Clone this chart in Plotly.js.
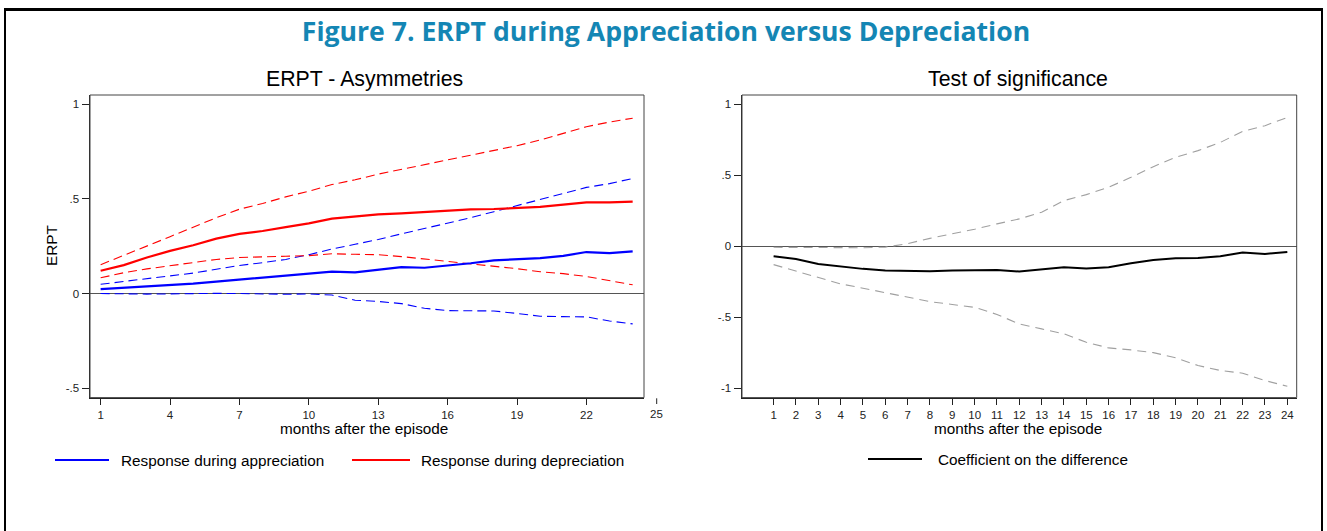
<!DOCTYPE html>
<html>
<head>
<meta charset="utf-8">
<script src="https://cdn.plot.ly/plotly-3.0.1.min.js"></script>
<style>
  html, body { margin: 0; padding: 0; background: #ffffff; overflow: hidden; }
  #frame { position: absolute; left: 4px; top: 8px; width: 1315px; height: 600px;
           border-top: 3px solid #000; border-left: 2px solid #000; border-right: 2px solid #000;
           pointer-events: none; }
  #chart { position: absolute; left: 0; top: 0; width: 1327px; height: 531px; }
</style>
</head>
<body>
<div id="chart"></div>
<div id="frame"></div>
<script>
// ---------------- data ----------------
const months = [1,2,3,4,5,6,7,8,9,10,11,12,13,14,15,16,17,18,19,20,21,22,23,24];

// Left panel: ERPT - Asymmetries
const apprResp  = [0.023,0.030,0.036,0.042,0.052,0.063,0.074,0.082,0.092,0.103,0.116,0.112,0.125,0.139,0.136,0.146,0.160,0.175,0.182,0.187,0.199,0.219,0.213,0.222];
const apprUpper = [0.049,0.063,0.077,0.090,0.108,0.128,0.148,0.163,0.180,0.205,0.235,0.260,0.285,0.315,0.343,0.370,0.400,0.432,0.465,0.495,0.530,0.560,0.580,0.607];
const apprLower = [0.000,-0.002,-0.003,-0.002,0.000,0.001,0.000,-0.003,-0.004,-0.002,-0.008,-0.035,-0.042,-0.053,-0.078,-0.090,-0.090,-0.092,-0.105,-0.120,-0.122,-0.123,-0.145,-0.160];
const deprResp  = [0.120,0.150,0.190,0.225,0.255,0.290,0.315,0.330,0.350,0.370,0.395,0.405,0.418,0.423,0.430,0.439,0.444,0.446,0.451,0.457,0.469,0.481,0.481,0.485];
const deprUpper = [0.152,0.200,0.250,0.300,0.350,0.400,0.445,0.475,0.510,0.540,0.575,0.600,0.630,0.655,0.680,0.705,0.730,0.755,0.780,0.810,0.845,0.880,0.905,0.925];
const deprLower = [0.083,0.110,0.130,0.148,0.165,0.180,0.190,0.195,0.197,0.200,0.210,0.207,0.205,0.195,0.183,0.171,0.158,0.145,0.131,0.115,0.105,0.090,0.070,0.046];

// Right panel: Test of significance
const diffCoef  = [-0.070,-0.089,-0.124,-0.143,-0.159,-0.171,-0.174,-0.176,-0.171,-0.167,-0.167,-0.178,-0.164,-0.148,-0.157,-0.148,-0.120,-0.096,-0.085,-0.082,-0.070,-0.044,-0.054,-0.040];
const diffUpper = [-0.007,-0.008,-0.010,-0.012,-0.010,-0.006,0.019,0.056,0.087,0.120,0.158,0.193,0.240,0.322,0.364,0.416,0.486,0.561,0.627,0.674,0.732,0.810,0.850,0.908];
const diffLower = [-0.129,-0.175,-0.220,-0.265,-0.295,-0.325,-0.360,-0.390,-0.410,-0.430,-0.480,-0.547,-0.582,-0.617,-0.676,-0.716,-0.730,-0.749,-0.786,-0.840,-0.875,-0.894,-0.946,-0.986];

// tick labels
const leftXTicks  = [1,4,7,10,13,16,19,22];
const leftYTicks  = [-0.5,0,0.5,1];
const leftYLabels = ['-.5','0','.5','1'];
const rightYTicks  = [-1,-0.5,0,0.5,1];
const rightYLabels = ['-1','-.5','0','.5','1'];

// text
const mainTitle   = 'Figure 7. ERPT during Appreciation versus Depreciation';
const leftTitle   = 'ERPT - Asymmetries';
const rightTitle  = 'Test of significance';
const xTitle      = 'months after the episode';
const yTitle      = 'ERPT';
const nameAppr    = 'Response during appreciation';
const nameDepr    = 'Response during depreciation';
const nameDiff    = 'Coefficient on the difference';

// ---------------- layout helpers ----------------
const W = 1327, H = 531;
const px = v => v / W;
const py = v => 1 - v / H;
const FONT = 'Liberation Sans, Arial, sans-serif';
const BLUE = '#0000ff', RED = '#ff0000', GRAY = '#a0a0a0', BLACK = '#000000';

function line(x, y, xa, ya, color, width, dash, name) {
  return { type: 'scatter', mode: 'lines', x: x, y: y, xaxis: xa, yaxis: ya, name: name,
           line: { color: color, width: width, dash: dash }, showlegend: false, hoverinfo: 'x+y' };
}

const traces = [
  line(months, apprUpper, 'x', 'y', BLUE, 1.1, '9px,5px', 'appreciation upper'),
  line(months, apprLower, 'x', 'y', BLUE, 1.1, '9px,5px', 'appreciation lower'),
  line(months, deprUpper, 'x', 'y', RED, 1.1, '9px,5px', 'depreciation upper'),
  line(months, deprLower, 'x', 'y', RED, 1.1, '9px,5px', 'depreciation lower'),
  line(months, apprResp, 'x', 'y', BLUE, 2.2, 'solid', nameAppr),
  line(months, deprResp, 'x', 'y', RED, 2.2, 'solid', nameDepr),
  line(months, diffUpper, 'x2', 'y2', GRAY, 1.1, '9px,6px', 'upper bound'),
  line(months, diffLower, 'x2', 'y2', GRAY, 1.1, '9px,6px', 'lower bound'),
  line(months, diffCoef, 'x2', 'y2', BLACK, 2, 'solid', nameDiff)
];

const tickFont = { family: FONT, size: 11.5, color: '#222' };
const axBase = {
  showgrid: false, showline: true, linecolor: '#222', linewidth: 1.5,
  ticks: 'outside', tickcolor: '#222', tickwidth: 1, tickfont: tickFont, fixedrange: true
};

const yDom = [py(397.6), py(95)];
const labFont = { family: FONT, size: 15.3, color: '#000' };
const subFont = { family: FONT, size: 21.3, color: '#000' };

const layout = {
  width: W, height: H,
  margin: { l: 0, r: 0, t: 0, b: 0 },
  paper_bgcolor: 'rgba(0,0,0,0)', plot_bgcolor: '#ffffff',
  showlegend: false,
  title: { text: '<b>' + mainTitle + '</b>', x: px(666), xanchor: 'center', y: py(32), yanchor: 'middle',
           font: { family: 'Open Sans, Noto Sans, sans-serif', size: 26.6, color: '#1486b4' } },
  xaxis: Object.assign({}, axBase, { domain: [px(90), px(644)], range: [0.54, 24.49], anchor: 'y',
           tickmode: 'array', tickvals: leftXTicks, ticklen: 6, zeroline: false }),
  yaxis: Object.assign({}, axBase, { domain: yDom, range: [-0.549, 1.0475], anchor: 'x',
           tickmode: 'array', tickvals: leftYTicks, ticktext: leftYLabels, ticklen: 7,
           zeroline: true, zerolinecolor: '#555', zerolinewidth: 1 }),
  xaxis2: Object.assign({}, axBase, { domain: [px(742), px(1296.7)], range: [-0.415, 24.42], anchor: 'y2',
           tickmode: 'array', tickvals: months, ticklen: 6, zeroline: false }),
  yaxis2: Object.assign({}, axBase, { domain: yDom, range: [-1.066, 1.066], anchor: 'x2',
           tickmode: 'array', tickvals: rightYTicks, ticktext: rightYLabels, ticklen: 7,
           zeroline: true, zerolinecolor: '#555', zerolinewidth: 1 }),
  shapes: [
    { type: 'rect', xref: 'x domain', yref: 'y domain', x0: 0, x1: 1, y0: 0, y1: 1,
      line: { color: '#444', width: 1 }, layer: 'above' },
    { type: 'rect', xref: 'x2 domain', yref: 'y2 domain', x0: 0, x1: 1, y0: 0, y1: 1,
      line: { color: '#444', width: 1 }, layer: 'above' },
    // Stata draws an extra tick at 25 outside the plot box
    { type: 'line', xref: 'paper', yref: 'paper', x0: px(656.7), x1: px(656.7), y0: py(398.3), y1: py(404),
      line: { color: '#222', width: 1 } },
    // legend samples
    { type: 'line', xref: 'paper', yref: 'paper', x0: px(55), x1: px(109), y0: py(460), y1: py(460),
      line: { color: BLUE, width: 2 } },
    { type: 'line', xref: 'paper', yref: 'paper', x0: px(352), x1: px(410), y0: py(460), y1: py(460),
      line: { color: RED, width: 2 } },
    { type: 'line', xref: 'paper', yref: 'paper', x0: px(868), x1: px(922), y0: py(459), y1: py(459),
      line: { color: BLACK, width: 2 } }
  ],
  annotations: [
    { text: leftTitle, xref: 'paper', yref: 'paper', x: px(364), y: py(79), xanchor: 'center', yanchor: 'middle',
      showarrow: false, font: subFont },
    { text: rightTitle, xref: 'paper', yref: 'paper', x: px(1018), y: py(79), xanchor: 'center', yanchor: 'middle',
      showarrow: false, font: subFont },
    { text: xTitle, xref: 'paper', yref: 'paper', x: px(364), y: py(428), xanchor: 'center', yanchor: 'middle',
      showarrow: false, font: labFont },
    { text: xTitle, xref: 'paper', yref: 'paper', x: px(1018), y: py(428), xanchor: 'center', yanchor: 'middle',
      showarrow: false, font: labFont },
    { text: yTitle, xref: 'paper', yref: 'paper', x: px(52), y: py(246), xanchor: 'center', yanchor: 'middle',
      textangle: -90, showarrow: false, font: labFont },
    { text: '25', xref: 'paper', yref: 'paper', x: px(656.7), y: py(414), xanchor: 'center', yanchor: 'middle',
      showarrow: false, font: tickFont },
    { text: nameAppr, xref: 'paper', yref: 'paper', x: px(119), y: py(460), xanchor: 'left', yanchor: 'middle',
      showarrow: false, font: labFont },
    { text: nameDepr, xref: 'paper', yref: 'paper', x: px(419), y: py(460), xanchor: 'left', yanchor: 'middle',
      showarrow: false, font: labFont },
    { text: nameDiff, xref: 'paper', yref: 'paper', x: px(936), y: py(459), xanchor: 'left', yanchor: 'middle',
      showarrow: false, font: labFont }
  ]
};

Plotly.newPlot('chart', traces, layout, { displayModeBar: false, staticPlot: true });
</script>
</body>
</html>
